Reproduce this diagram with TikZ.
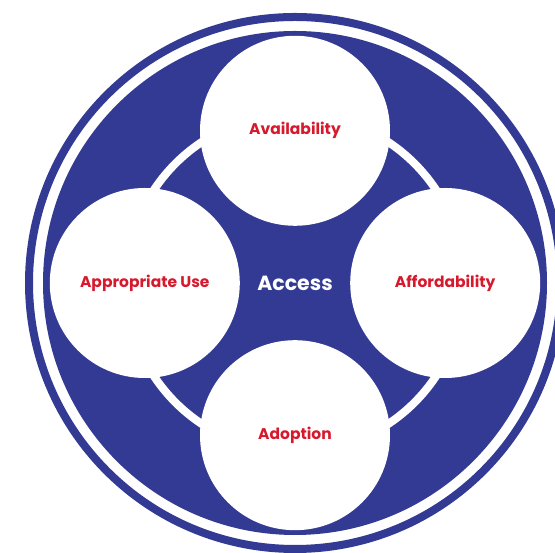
\documentclass[tikz,border=0pt]{standalone}
\usepackage{fontspec}
\setmainfont{Poppins}
\usetikzlibrary{positioning}
\definecolor{blu}{RGB}{51,58,148}
\definecolor{rosso}{RGB}{215,25,45}
\tikzset{
  cerchio/.style={circle, fill=white, minimum size=190pt, inner sep=0pt,
    text=rosso, font=\bfseries\fontsize{15.5}{16}\selectfont},
  centrale/.style={text=white, font=\bfseries\fontsize{20.5}{22}\selectfont},
}
\begin{document}
\begin{tikzpicture}[x=1pt,y=1pt]
    \useasboundingbox (0,0) rectangle (555,553);
    \clip (0,0) rectangle (555,553);
    \coordinate (centro) at (295,270);

    % Anello esterno e disco interno
    \draw[blu, line width=8pt] (centro) circle (266pt);
    \fill[blu] (centro) circle (252pt);

    % Anello bianco che unisce i cerchi
    \draw[white, line width=8pt] (centro) circle (169pt);

    % I quattro cerchi
    \node[cerchio, above=57pt of centro] (disp) {Availability};
    \node[cerchio, right=55pt of centro] (acq) {Affordability};
    \node[cerchio, below=57pt of centro] (adoz) {Adoption};
    \node[cerchio, left=55pt of centro] (uso) {Appropriate Use};

    \node[centrale] (accesso) at (centro) {Access}; % Testo al centro
\end{tikzpicture}
\end{document}
